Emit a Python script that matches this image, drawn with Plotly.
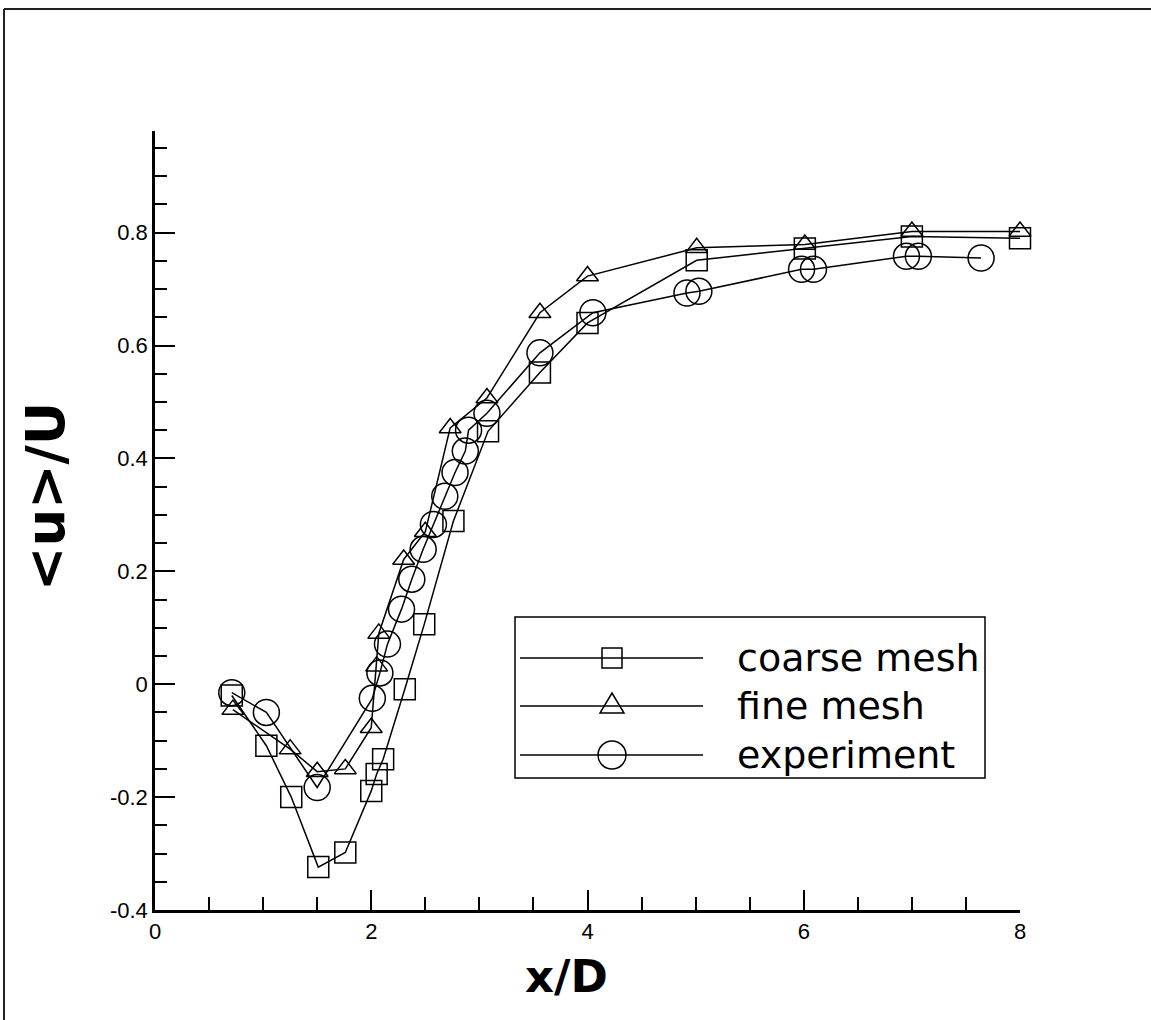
import plotly.graph_objects as go

# ---------------- data ----------------
coarse_x = [0.71, 1.03, 1.26, 1.51, 1.76, 2.00, 2.05, 2.11, 2.31, 2.49, 2.76, 3.08, 3.56, 4.00, 5.01, 6.01, 7.00, 8.00]
coarse_y = [-0.02, -0.109, -0.200, -0.324, -0.298, -0.189, -0.159, -0.133, -0.009, 0.106, 0.289, 0.448, 0.552, 0.640, 0.751, 0.772, 0.793, 0.790]

fine_x = [0.72, 1.25, 1.50, 1.76, 2.00, 2.05, 2.07, 2.30, 2.50, 2.73, 3.07, 3.56, 4.00, 5.01, 6.01, 7.00, 8.00]
fine_y = [-0.045, -0.115, -0.155, -0.150, -0.077, 0.032, 0.090, 0.221, 0.270, 0.454, 0.507, 0.658, 0.723, 0.773, 0.779, 0.802, 0.802]

exp_x = [0.71, 1.03, 1.50, 2.01, 2.08, 2.15, 2.28, 2.375, 2.48, 2.575, 2.68, 2.775, 2.87, 2.90, 3.07, 3.56, 4.05, 4.92, 5.03, 5.98, 6.09, 6.95, 7.06, 7.64]
exp_y = [-0.015, -0.050, -0.183, -0.025, 0.020, 0.071, 0.133, 0.186, 0.239, 0.283, 0.333, 0.375, 0.413, 0.450, 0.480, 0.587, 0.658, 0.693, 0.696, 0.735, 0.735, 0.758, 0.758, 0.755]

series_names = ["coarse mesh", "fine mesh", "experiment"]
series_symbols = ["square-open", "triangle-up-open", "circle-open"]
series_sizes = [21, 19, 26]

x_tick_vals = [0, 2, 4, 6, 8]
x_tick_text = ["0", "2", "4", "6", "8"]
y_tick_vals = [-0.4, -0.2, 0, 0.2, 0.4, 0.6, 0.8]
y_tick_text = ["-0.4", "-0.2", "0", "0.2", "0.4", "0.6", "0.8"]

x_title = "x/D"
y_title = "&lt;u&gt;/U"

# ---------------- layout geometry ----------------
W, H = 1151, 1020
L, R, T, B = 155, 131, 131, 110
PW, PH = W - L - R, H - T - B


def px(xp):
    return (xp - L) / PW


def py(yp):
    return (H - B - yp) / PH


TICK_FONT = dict(family="Liberation Sans, Arial, sans-serif", size=22, color="black")
TITLE_FONT = "DejaVu Sans, sans-serif"

fig = go.Figure()
for xs, ys, name, sym, sz in zip([coarse_x, fine_x, exp_x], [coarse_y, fine_y, exp_y],
                                 series_names, series_symbols, series_sizes):
    fig.add_trace(go.Scatter(
        x=xs, y=ys, name=name, mode="lines+markers",
        line=dict(color="black", width=1.5),
        marker=dict(symbol=sym, size=sz, color="black", line=dict(color="black", width=1.5)),
        cliponaxis=False, showlegend=False,
    ))

fig.update_layout(
    width=W, height=H,
    margin=dict(l=L, r=R, t=T, b=B),
    paper_bgcolor="white", plot_bgcolor="white",
    showlegend=False,
)
fig.update_xaxes(
    range=[0, 8], tickmode="array", tickvals=x_tick_vals, ticktext=x_tick_text,
    showline=True, linecolor="black", linewidth=2.5, showgrid=False, zeroline=False,
    ticks="inside", ticklen=20, tickwidth=2, tickcolor="black",
    tickfont=TICK_FONT,
    minor=dict(dtick=0.5, tick0=0, ticks="inside", ticklen=13, tickwidth=1.5, tickcolor="black"),
)
fig.update_yaxes(
    range=[-0.4, 0.98], tickmode="array", tickvals=y_tick_vals, ticktext=y_tick_text,
    showline=True, linecolor="black", linewidth=2.5, showgrid=False, zeroline=False,
    ticks="inside", ticklen=20, tickwidth=2, tickcolor="black",
    tickfont=TICK_FONT,
    minor=dict(dtick=0.05, tick0=0, ticks="inside", ticklen=12, tickwidth=1.5, tickcolor="black"),
)

annotations = [
    dict(text="<b>" + x_title + "</b>", x=px(566), y=py(976), xref="paper", yref="paper",
         showarrow=False, font=dict(family=TITLE_FONT, size=45, color="black"), xanchor="center", yanchor="middle"),
    dict(text="<b>" + y_title + "</b>", x=px(45), y=py(497), xref="paper", yref="paper",
         showarrow=False, textangle=-90, font=dict(family=TITLE_FONT, size=53, color="black"),
         xanchor="center", yanchor="middle"),
]

shapes = [
    # outer partial frame
    dict(type="line", xref="paper", yref="paper", x0=px(4), x1=px(1151), y0=py(9), y1=py(9),
         line=dict(color="#222222", width=2)),
    dict(type="line", xref="paper", yref="paper", x0=px(4), x1=px(4), y0=py(9), y1=py(1020),
         line=dict(color="#222222", width=2)),
    # legend box
    dict(type="rect", xref="paper", yref="paper", x0=px(515), x1=px(985), y0=py(617), y1=py(778),
         line=dict(color="black", width=1.5), fillcolor="rgba(0,0,0,0)"),
]

leg_rows = [658, 706, 755]
for i, (name, yrow) in enumerate(zip(series_names, leg_rows)):
    shapes.append(dict(type="line", xref="paper", yref="paper", x0=px(520), x1=px(703),
                       y0=py(yrow), y1=py(yrow), line=dict(color="black", width=1.5)))
    cx = 612
    if i == 0:
        shapes.append(dict(type="rect", xref="paper", yref="paper", x0=px(cx - 10), x1=px(cx + 10),
                           y0=py(yrow - 10), y1=py(yrow + 10), line=dict(color="black", width=1.5)))
    elif i == 1:
        path = "M {} {} L {} {} L {} {} Z".format(px(cx - 12), py(yrow + 7), px(cx + 12), py(yrow + 7),
                                                  px(cx), py(yrow - 13))
        shapes.append(dict(type="path", xref="paper", yref="paper", path=path,
                           line=dict(color="black", width=1.5)))
    else:
        shapes.append(dict(type="circle", xref="paper", yref="paper", x0=px(cx - 14), x1=px(cx + 14),
                           y0=py(yrow - 14), y1=py(yrow + 14), line=dict(color="black", width=1.5)))
    annotations.append(dict(text=name, x=px(735), y=py(yrow), xref="paper", yref="paper",
                            showarrow=False, xanchor="left", yanchor="middle",
                            font=dict(family="DejaVu Sans, sans-serif", size=38, color="black")))

fig.update_layout(annotations=annotations, shapes=shapes)
fig.write_html("out.html")
